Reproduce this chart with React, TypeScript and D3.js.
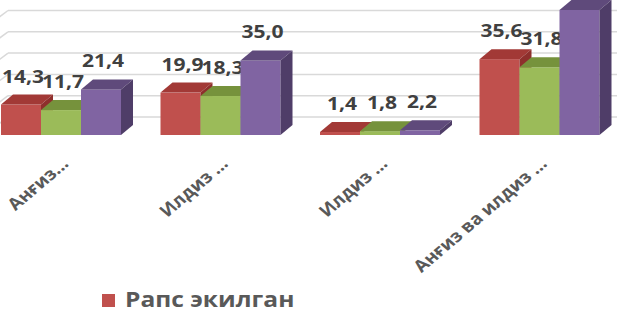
import { useEffect, useRef } from "react";
import * as d3 from "d3";

const categories = ["Анғиз...", "Илдиз ...", "Илдиз ...", "Анғиз ва илдиз ..."];
const seriesNames = ["Рапс экилган", "Серия 2", "Серия 3"];
const seriesA = [14.3, 19.9, 1.4, 35.6];
const seriesB = [11.7, 18.3, 1.8, 31.8];
const seriesC = [21.4, 35.0, 2.2, 58.7];
const gridTicks = [0, 10, 20, 30, 40, 50, 60];

const colors = [
  { front: "#c0504d", top: "#a23936", side: "#8e2f2c" },
  { front: "#9bbb59", top: "#76923c", side: "#6a8535" },
  { front: "#8064a2", top: "#5f4a7b", side: "#4f3d68" },
];

const App: React.FC = () => {
  const svgRef = useRef<SVGSVGElement | null>(null);

  useEffect(() => {
    if (!svgRef.current) return;
    const svg = d3.select(svgRef.current);
    svg.selectAll("*").remove();

    const width = 617;
    const baseY = 135;
    const dx = 12; // bar depth
    const dy = 10;
    const wallDx = 24; // back wall offset
    const wallDy = 18;
    const stretch = 1.17; // the picture is a bit wider than tall

    const x = d3.scaleBand<string>().domain(d3.range(categories.length).map(String)).range([-19, 619]);
    const xs = d3.scaleBand<string>().domain(seriesNames).range([20, 140]);
    const y = d3.scaleLinear().domain([0, 60]).range([baseY, baseY - 127.8]);

    const data = [seriesA, seriesB, seriesC];

    // gridlines on back wall + side wall
    const grid = svg.append("g");
    gridTicks.forEach((t) => {
      const gy = y(t) - wallDy;
      grid.append("line")
        .attr("x1", 8).attr("x2", width)
        .attr("y1", gy).attr("y2", gy)
        .attr("stroke", "#d9d9d9").attr("stroke-width", 1.5);
      grid.append("line")
        .attr("x1", 8).attr("x2", 8 - wallDx)
        .attr("y1", gy).attr("y2", gy + wallDy)
        .attr("stroke", "#d9d9d9").attr("stroke-width", 1.5);
    });

    const bars = svg.append("g");
    categories.forEach((_, ci) => {
      data.forEach((vals, si) => {
        const v = vals[ci];
        const x0 = (x(String(ci)) ?? 0) + (xs(seriesNames[si]) ?? 0);
        const w = xs.bandwidth();
        const yt = y(v);
        const c = colors[si];
        bars.append("rect")
          .attr("x", x0).attr("y", yt)
          .attr("width", w).attr("height", baseY - yt)
          .attr("fill", c.front);
        bars.append("path")
          .attr("d", `M${x0},${yt}L${x0 + dx},${yt - dy}L${x0 + w + dx},${yt - dy}L${x0 + w},${yt}Z`)
          .attr("fill", c.top);
        bars.append("path")
          .attr("d", `M${x0 + w},${yt}L${x0 + w + dx},${yt - dy}L${x0 + w + dx},${baseY - dy}L${x0 + w},${baseY}Z`)
          .attr("fill", c.side);
        const ly = yt - 22;
        if (ly < 10) return; // label falls outside the picture, as in the original
        bars.append("text")
          .attr("transform", `translate(${x0 + w / 2 + 2},${ly}) scale(${stretch},1)`)
          .attr("text-anchor", "middle")
          .attr("font-family", "'Open Sans', sans-serif")
          .attr("font-weight", 700)
          .attr("font-size", 18)
          .attr("fill", "#404040")
          .text(d3.format(".1f")(v).replace(".", ","));
      });
    });

    // category labels
    svg.append("g").selectAll("text")
      .data(categories)
      .enter()
      .append("text")
      .attr("transform", (_, i) =>
        `translate(${(x(String(i)) ?? 0) + x.bandwidth() / 2 + 9},165) scale(${stretch},1) rotate(-45)`)
      .attr("text-anchor", "end")
      .attr("font-family", "'Open Sans', sans-serif")
      .attr("font-weight", 700)
      .attr("font-size", 16.5)
      .attr("fill", "#595959")
      .text((d) => d);

    // legend
    const lg = svg.append("g");
    lg.append("rect").attr("x", 102).attr("y", 294).attr("width", 13).attr("height", 13).attr("fill", colors[0].front);
    lg.append("text")
      .attr("transform", `translate(125,307) scale(${stretch},1)`)
      .attr("font-family", "'Open Sans', sans-serif")
      .attr("font-weight", 700)
      .attr("font-size", 21)
      .attr("fill", "#595959")
      .text(seriesNames[0]);
  }, []);

  return (
    <svg
      ref={svgRef}
      width={617}
      height={313}
      style={{ position: "absolute", left: 0, top: 0, background: "#fff" }}
    ></svg>
  );
};

export default App;
